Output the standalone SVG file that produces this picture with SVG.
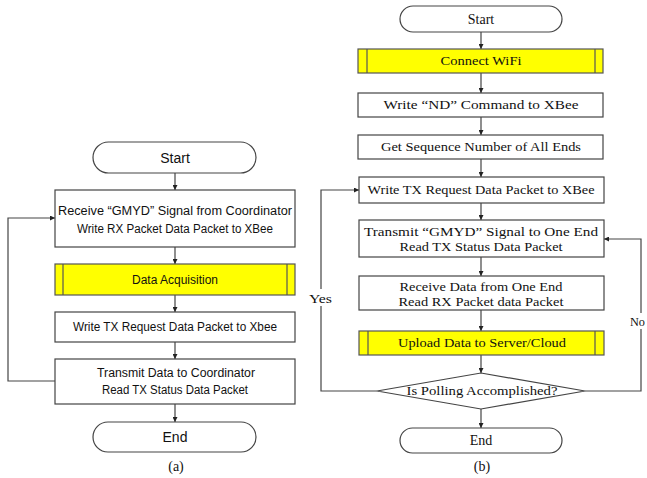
<svg xmlns="http://www.w3.org/2000/svg" width="647" height="478" viewBox="0 0 647 478">
<style>
.box{fill:#fff;stroke:#444;stroke-width:1.2}
.term{fill:#fff;stroke:#444;stroke-width:1.2}
.sub{fill:#ffff00;stroke:#555;stroke-width:1.2}
.edge{fill:none;stroke:#444;stroke-width:1.2}
.a{font-family:"Liberation Sans",Arial,sans-serif;font-size:12.5px;fill:#111;text-anchor:middle;dominant-baseline:central}
.b{font-family:"Liberation Serif","Times New Roman",serif;font-size:12.5px;fill:#111;text-anchor:middle;dominant-baseline:central}
.big{font-size:14px}
.lbl{font-family:"Liberation Serif","Times New Roman",serif;font-size:13px;fill:#111;dominant-baseline:central}
</style>
<defs>
<marker id="arr" viewBox="0 0 8 8" refX="8" refY="4" markerWidth="5" markerHeight="5" orient="auto" markerUnits="userSpaceOnUse">
<path d="M0,0 L8,4 L0,8 z" fill="#222"/>
</marker>
</defs>
<rect width="647" height="478" fill="#fff"/>

<g id="connectors">
<line class="edge" x1="175" y1="173" x2="175" y2="190" marker-end="url(#arr)"/>
<line class="edge" x1="175" y1="247" x2="175" y2="264" marker-end="url(#arr)"/>
<line class="edge" x1="175" y1="295" x2="175" y2="312" marker-end="url(#arr)"/>
<line class="edge" x1="175" y1="342" x2="175" y2="359" marker-end="url(#arr)"/>
<line class="edge" x1="175" y1="404" x2="175" y2="422" marker-end="url(#arr)"/>
<polyline class="edge" points="55,381 8,381 8,218 55,218" marker-end="url(#arr)"/>
<line class="edge" x1="481" y1="32" x2="481" y2="49" marker-end="url(#arr)"/>
<line class="edge" x1="481" y1="73" x2="481" y2="93" marker-end="url(#arr)"/>
<line class="edge" x1="481" y1="117" x2="481" y2="135" marker-end="url(#arr)"/>
<line class="edge" x1="481" y1="159" x2="481" y2="177" marker-end="url(#arr)"/>
<line class="edge" x1="481" y1="203" x2="481" y2="220" marker-end="url(#arr)"/>
<line class="edge" x1="481" y1="257" x2="481" y2="276" marker-end="url(#arr)"/>
<line class="edge" x1="481" y1="310" x2="481" y2="331" marker-end="url(#arr)"/>
<line class="edge" x1="481" y1="355" x2="481" y2="373" marker-end="url(#arr)"/>
<line class="edge" x1="481" y1="409" x2="481" y2="428" marker-end="url(#arr)"/>
<polyline class="edge" points="377,391 321,391 321,306"/>
<polyline class="edge" points="321,289 321,190 359,190" marker-end="url(#arr)"/>
<polyline class="edge" points="585,391 641,391 641,329"/>
<polyline class="edge" points="641,313 641,239 604,239" marker-end="url(#arr)"/>
<text class="lbl" x="309" y="298" textLength="23" lengthAdjust="spacingAndGlyphs">Yes</text>
<text class="lbl" x="630" y="321" textLength="15" lengthAdjust="spacingAndGlyphs">No</text>
</g>

<g id="a-start">
<rect class="term" x="93" y="142" width="163" height="31" rx="15.5"/>
<text class="a big" x="175" y="158">Start</text>
</g>
<g id="a-receive">
<rect class="box" x="55" y="190" width="240" height="57"/>
<text class="a" x="175" y="211" textLength="234" lengthAdjust="spacingAndGlyphs">Receive “GMYD” Signal from Coordinator</text>
<text class="a" x="175" y="229" textLength="196" lengthAdjust="spacingAndGlyphs">Write RX Packet Data Packet to XBee</text>
</g>
<g id="a-acq">
<rect class="sub" x="55" y="264" width="240" height="31"/>
<line class="sub" x1="63" y1="264" x2="63" y2="295"/>
<line class="sub" x1="287" y1="264" x2="287" y2="295"/>
<text class="a" x="175" y="280" textLength="86" lengthAdjust="spacingAndGlyphs">Data Acquisition</text>
</g>
<g id="a-write">
<rect class="box" x="55" y="312" width="240" height="30"/>
<text class="a" x="175" y="327" textLength="204" lengthAdjust="spacingAndGlyphs">Write TX Request Data Packet to Xbee</text>
</g>
<g id="a-transmit">
<rect class="box" x="55" y="359" width="240" height="45"/>
<text class="a" x="176" y="373" textLength="158" lengthAdjust="spacingAndGlyphs">Transmit Data to Coordinator</text>
<text class="a" x="175" y="390" textLength="146" lengthAdjust="spacingAndGlyphs">Read TX Status Data Packet</text>
</g>
<g id="a-end">
<rect class="term" x="93" y="422" width="163" height="30" rx="15"/>
<text class="a big" x="175" y="437">End</text>
</g>
<text class="b big" x="176" y="466">(a)</text>

<g id="b-start">
<rect class="term" x="400" y="6" width="162" height="26" rx="13"/>
<text class="b big" x="481" y="19">Start</text>
</g>
<g id="b-wifi">
<rect class="sub" x="358" y="49" width="245" height="24"/>
<line class="sub" x1="367" y1="49" x2="367" y2="73"/>
<line class="sub" x1="595" y1="49" x2="595" y2="73"/>
<text class="b" x="481" y="61" textLength="81" lengthAdjust="spacingAndGlyphs">Connect WiFi</text>
</g>
<g id="b-nd">
<rect class="box" x="358" y="93" width="245" height="24"/>
<text class="b" x="481" y="105" textLength="195" lengthAdjust="spacingAndGlyphs">Write “ND” Command to XBee</text>
</g>
<g id="b-seq">
<rect class="box" x="358" y="135" width="245" height="24"/>
<text class="b" x="481" y="147" textLength="200" lengthAdjust="spacingAndGlyphs">Get Sequence Number of All Ends</text>
</g>
<g id="b-write">
<rect class="box" x="359" y="177" width="245" height="26"/>
<text class="b" x="481" y="190" textLength="227" lengthAdjust="spacingAndGlyphs">Write TX Request Data Packet to XBee</text>
</g>
<g id="b-transmit">
<rect class="box" x="359" y="220" width="245" height="37"/>
<text class="b" x="481" y="232" textLength="234" lengthAdjust="spacingAndGlyphs">Transmit “GMYD” Signal to One End</text>
<text class="b" x="481" y="247" textLength="163" lengthAdjust="spacingAndGlyphs">Read TX Status Data Packet</text>
</g>
<g id="b-receive">
<rect class="box" x="359" y="276" width="245" height="34"/>
<text class="b" x="481" y="287" textLength="163" lengthAdjust="spacingAndGlyphs">Receive Data from One End</text>
<text class="b" x="481" y="302" textLength="165" lengthAdjust="spacingAndGlyphs">Read RX Packet data Packet</text>
</g>
<g id="b-upload">
<rect class="sub" x="359" y="331" width="245" height="24"/>
<line class="sub" x1="368" y1="331" x2="368" y2="355"/>
<line class="sub" x1="595" y1="331" x2="595" y2="355"/>
<text class="b" x="482" y="343" textLength="168" lengthAdjust="spacingAndGlyphs">Upload Data to Server/Cloud</text>
</g>
<g id="b-decision">
<polygon class="box" points="481,373 585,391 481,409 377,391"/>
<text class="b" x="482" y="391" textLength="151" lengthAdjust="spacingAndGlyphs">Is Polling Accomplished?</text>
</g>
<g id="b-end">
<rect class="term" x="400" y="428" width="162" height="25" rx="12.5"/>
<text class="b big" x="481" y="440">End</text>
</g>
<text class="b big" x="482" y="466">(b)</text>
</svg>
